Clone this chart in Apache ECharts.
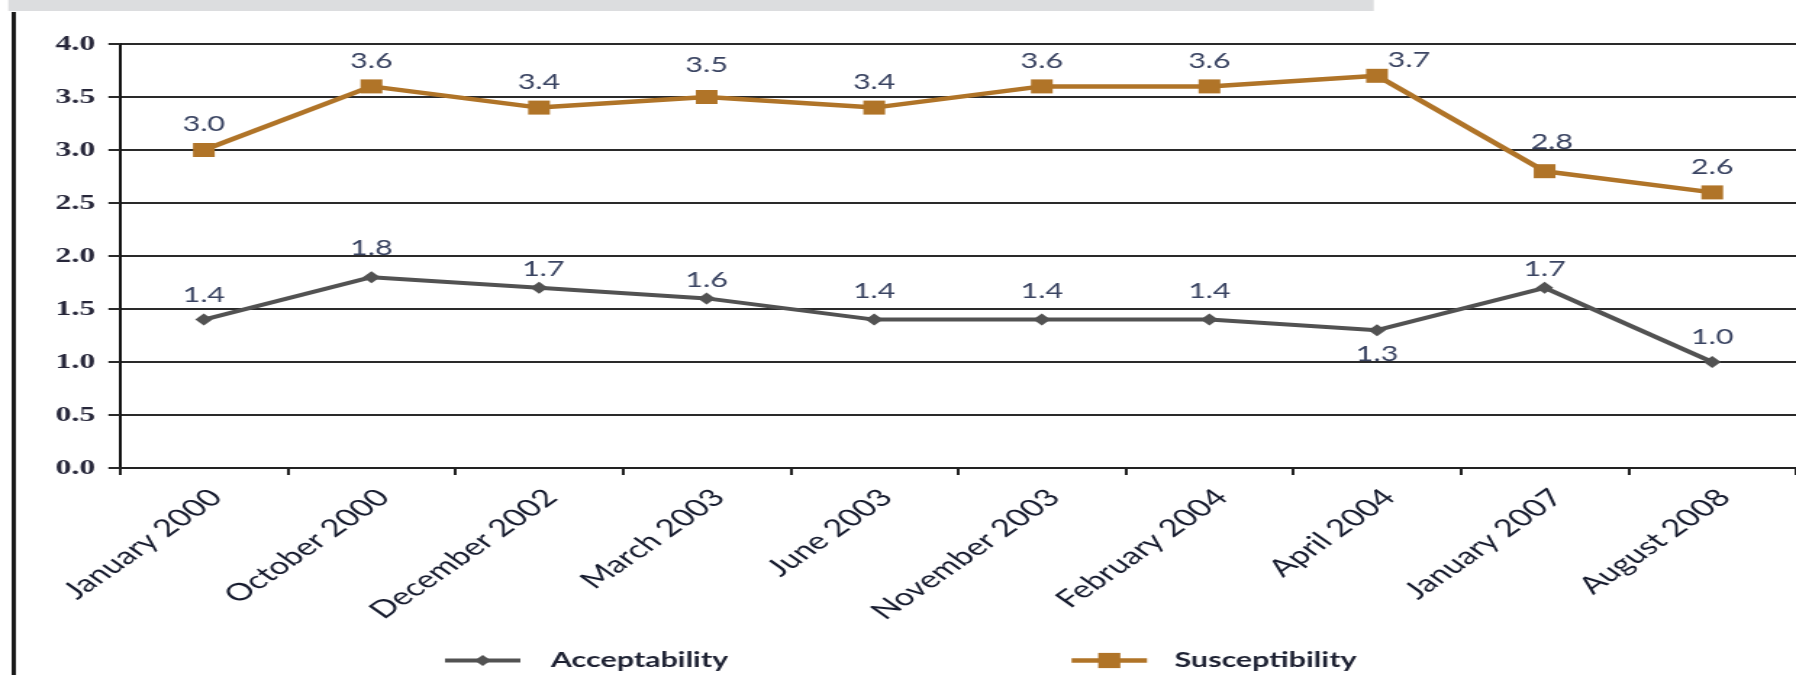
<!DOCTYPE html>
<html>
<head>
<meta charset="utf-8">
<script src="https://cdn.jsdelivr.net/npm/echarts@6/dist/echarts.min.js"></script>
<style>
  html, body { margin: 0; padding: 0; background: #fff; overflow: hidden; }
  /* the chart is laid out narrow and widened horizontally, giving the wide lettering */
  #chart { width: 1239px; height: 675px; transform: scaleX(1.44956); transform-origin: 0 0; }
</style>
</head>
<body>
<div id="chart"></div>
<script>
// Survey waves
const surveyDates = ['January 2000', 'October 2000', 'December 2002', 'March 2003', 'June 2003',
  'November 2003', 'February 2004', 'April 2004', 'January 2007', 'August 2008'];

// Mean scores per wave
const acceptability = [1.4, 1.8, 1.7, 1.6, 1.4, 1.4, 1.4, 1.3, 1.7, 1.0];
const susceptibility = [3.0, 3.6, 3.4, 3.5, 3.4, 3.6, 3.6, 3.7, 2.8, 2.6];

// Value axis tick labels
const yTickLabels = ['0.0', '0.5', '1.0', '1.5', '2.0', '2.5', '3.0', '3.5', '4.0'];

// Per-point label nudges so the value labels clear the lines
const susceptibilityLabelTweaks = {
  3: { offset: [0, -6] },
  7: { offset: [22, 10] },
  8: { offset: [5, -3] }
};
const acceptabilityLabelTweaks = {
  1: { offset: [0, -4] },
  2: { offset: [3, 6] },
  3: { offset: [0, 6] },
  4: { offset: [0, -4] },
  5: { offset: [0, -4] },
  6: { offset: [0, -4] },
  7: { position: 'bottom', distance: 8 },
  8: { offset: [0, 6] }
};

const GOLD = '#b07428';
const GREY = '#525252';
const LABEL_COLOR = '#3a4462';

function withLabels(values, tweaks) {
  return values.map((v, i) => tweaks[i] ? { value: v, label: tweaks[i] } : v);
}

const valueLabel = {
  show: true,
  position: 'top',
  distance: 8,
  fontFamily: 'Lato',
  fontSize: 21,
  color: LABEL_COLOR,
  formatter: p => Number(p.value).toFixed(1)
};

const legendText = { fontFamily: 'Lato', fontWeight: 'bold', fontSize: 21, color: '#1e2233' };

const chart = echarts.init(document.getElementById('chart'), null, { renderer: 'canvas' });

chart.setOption({
  animation: false,
  backgroundColor: '#ffffff',
  graphic: [
    { type: 'rect', shape: { x: 5.7, y: 0, width: 942, height: 11 }, style: { fill: '#dcdddf' }, silent: true },
    { type: 'rect', shape: { x: 8, y: 12, width: 3, height: 663 }, style: { fill: '#1a1a1a' }, silent: true }
  ],
  grid: { left: 82.8, top: 44, width: 1166, height: 424, containLabel: false },
  legend: [
    {
      data: ['Acceptability'],
      left: 305, top: 650, padding: 0,
      itemWidth: 52, itemHeight: 14,
      lineStyle: { width: 4 },
      textStyle: Object.assign({ padding: [0, 0, 0, 16] }, legendText)
    },
    {
      data: ['Susceptibility'],
      left: 737, top: 650, padding: 0,
      itemWidth: 52, itemHeight: 19,
      lineStyle: { width: 4.5 },
      textStyle: Object.assign({ padding: [0, 0, 0, 14] }, legendText)
    }
  ],
  xAxis: {
    type: 'category',
    data: surveyDates,
    boundaryGap: true,
    axisLine: { show: true, lineStyle: { color: '#222', width: 2 } },
    axisTick: { show: true, length: 7, lineStyle: { color: '#222', width: 2 } },
    axisLabel: {
      rotate: 45,
      margin: 17,
      interval: 0,
      verticalAlign: 'top',
      fontFamily: 'Lato',
      fontSize: 24,
      color: '#161b2e'
    },
    splitLine: { show: false }
  },
  yAxis: {
    type: 'value',
    min: 0,
    max: 4,
    interval: 0.5,
    axisLine: { show: true, lineStyle: { color: '#111', width: 2 } },
    axisTick: { show: true, length: 8, lineStyle: { color: '#2a2a2a', width: 2 } },
    axisLabel: {
      margin: 17,
      fontFamily: 'Liberation Serif',
      fontWeight: 'bold',
      fontSize: 22,
      color: '#27273a',
      formatter: v => yTickLabels[Math.round(v / 0.5)]
    },
    splitLine: { show: true, lineStyle: { color: '#2a2a2a', width: 2 } }
  },
  series: [
    {
      name: 'Acceptability',
      type: 'line',
      data: withLabels(acceptability, acceptabilityLabelTweaks),
      symbol: 'diamond',
      symbolSize: 12,
      lineStyle: { color: GREY, width: 4 },
      itemStyle: { color: GREY },
      label: valueLabel,
      z: 3
    },
    {
      name: 'Susceptibility',
      type: 'line',
      data: withLabels(susceptibility, susceptibilityLabelTweaks),
      symbol: 'rect',
      symbolSize: [15, 14],
      lineStyle: { color: GOLD, width: 4.5 },
      itemStyle: { color: GOLD },
      label: valueLabel,
      z: 3
    }
  ]
});
</script>
</body>
</html>
